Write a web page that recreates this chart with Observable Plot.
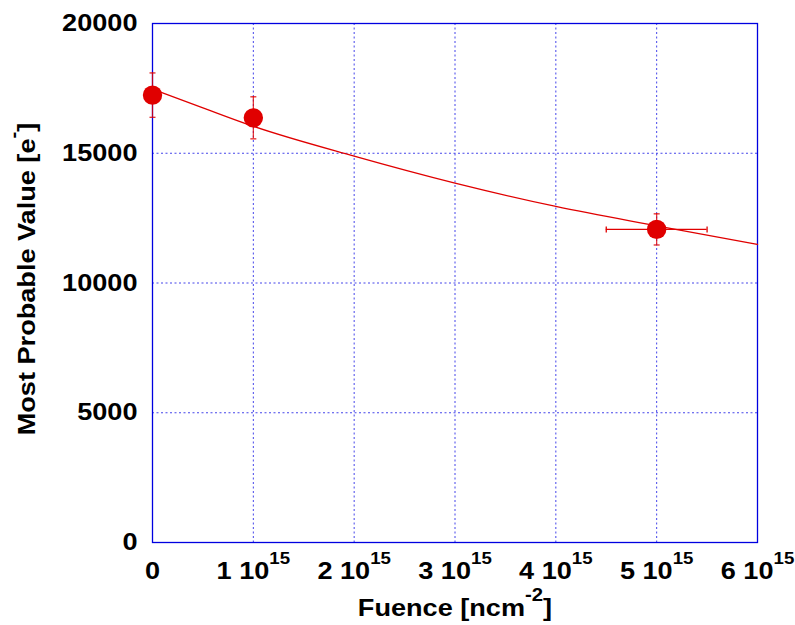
<!DOCTYPE html>
<html><head><meta charset="utf-8">
<script src="https://cdn.jsdelivr.net/npm/d3@7"></script>
<script src="https://cdn.jsdelivr.net/npm/@observablehq/plot@0.6"></script>
<style>body{margin:0;background:#fff}</style>
</head><body><div id="chart"></div>
<script>
// measured points
const fluence = [0, 1e15, 5e15];
const mpv = [17240, 16365, 12065];
const mpvErr = [855, 810, 600];
const fluenceErr = [0, 0.05e15, 0.5e15];
// fitted curve
const fitFluence = [0, 0.5e15, 1e15, 2e15, 3e15, 4e15, 5e15, 6e15];
const fitMpv = [17470, 16750, 16040, 14890, 13850, 12950, 12205, 11490];
// ticks
const xTicks = [0, 1e15, 2e15, 3e15, 4e15, 5e15, 6e15];
const xTickLabels = ["0", "1 10^{15}", "2 10^{15}", "3 10^{15}", "4 10^{15}", "5 10^{15}", "6 10^{15}"];
const yTicks = [0, 5000, 10000, 15000, 20000];
const yTickLabels = ["0", "5000", "10000", "15000", "20000"];
const xTitle = "Fuence [ncm^{-2}]";
const yTitle = "Most Probable Value [e^{-}]";

const points = fluence.map((x, i) => ({x, y: mpv[i], ey: mpvErr[i], ex: fluenceErr[i]}));
const fit = fitFluence.map((x, i) => ({x, y: fitMpv[i]}));
const xLab = new Map(xTicks.map((d, i) => [d, xTickLabels[i]]));
const yLab = new Map(yTicks.map((d, i) => [d, yTickLabels[i]]));
const red = "#e00000";
const gridStyle = {stroke: "#2424e6", strokeOpacity: 0.85, strokeDasharray: "2,2.5", strokeWidth: 1};
const hCap = {draw(ctx) { ctx.moveTo(-3, 0); ctx.lineTo(3, 0); }};
const vCap = {draw(ctx) { ctx.moveTo(0, -3); ctx.lineTo(0, 3); }};
const yCaps = points.flatMap(d => [{x: d.x, y: d.y - d.ey}, {x: d.x, y: d.y + d.ey}]);
const xErrPts = points.filter(d => d.ex > 0);
const xCaps = xErrPts.flatMap(d => [{x: d.x - d.ex, y: d.y}, {x: d.x + d.ex, y: d.y}]);

const chart = Plot.plot({
  width: 795, height: 625,
  marginLeft: 152, marginRight: 38, marginTop: 23, marginBottom: 83,
  style: {fontFamily: "'Liberation Sans', Arial, sans-serif", fontWeight: "bold", fontSize: "24px", color: "#000", background: "#fff", overflow: "visible"},
  x: {type: "linear", domain: [0, 6e15]},
  y: {type: "linear", domain: [0, 20000]},
  marks: [
    Plot.gridX(xTicks.slice(1, -1), gridStyle),
    Plot.gridY(yTicks.slice(1, -1), gridStyle),
    Plot.frame({stroke: "#0000e0", strokeWidth: 1.3}),
    Plot.axisX(xTicks, {tickSize: 0, tickPadding: 19, tickFormat: d => xLab.get(d), label: null, fontSize: 24}),
    Plot.axisY(yTicks, {tickSize: 0, tickPadding: 15, tickFormat: d => yLab.get(d), label: null, fontSize: 24}),
    Plot.line(fit, {x: "x", y: "y", curve: "monotone-x", stroke: red, strokeWidth: 1.3}),
    Plot.ruleX(points, {x: "x", y1: d => d.y - d.ey, y2: d => d.y + d.ey, stroke: red, strokeWidth: 1.2, strokeOpacity: 0.85}),
    Plot.dot(yCaps, {x: "x", y: "y", symbol: hCap, stroke: red, strokeWidth: 1.3, strokeOpacity: 0.85}),
    Plot.ruleY(xErrPts, {y: "y", x1: d => d.x - d.ex, x2: d => d.x + d.ex, stroke: red, strokeWidth: 1.2}),
    Plot.dot(xCaps, {x: "x", y: "y", symbol: vCap, stroke: red, strokeWidth: 1.3}),
    Plot.dot(points, {x: "x", y: "y", r: 9.7, fill: red, stroke: "none"}),
    Plot.text([xTitle], {frameAnchor: "bottom", dy: 66, fontSize: 24, lineAnchor: "middle", textAnchor: "middle"}),
    Plot.text([yTitle], {frameAnchor: "left", dx: -125, dy: -4, rotate: -90, fontSize: 24, textAnchor: "middle", lineAnchor: "middle"})
  ]
});

// superscripts: "base^{sup}rest", then widen glyphs like the original renderer
d3.select(chart).selectAll("text").each(function() {
  const s = this.textContent;
  const m = s.match(/^(.*?)\^\{(.*?)\}(.*)$/);
  if (m) {
    const t = d3.select(this);
    const isTitle = m[3].length > 0;
    const shift = 15;
    t.text(null);
    t.append("tspan").text(m[1]);
    t.append("tspan").attr("dy", -shift).attr("font-size", isTitle ? 18 : 16.5).text(m[2]);
    if (m[3]) t.append("tspan").attr("dy", shift).text(m[3]);
  }
  let tr = this.getAttribute("transform") || "";
  if (!tr) {
    const x = parseFloat(this.getAttribute("x")) || 0, y = parseFloat(this.getAttribute("y")) || 0;
    tr = `translate(${x},${y})`;
    this.setAttribute("x", 0); this.setAttribute("y", 0);
  }
  this.setAttribute("transform", tr + " scale(1.13,1)");
});
document.getElementById("chart").appendChild(chart);
</script>
</body></html>
